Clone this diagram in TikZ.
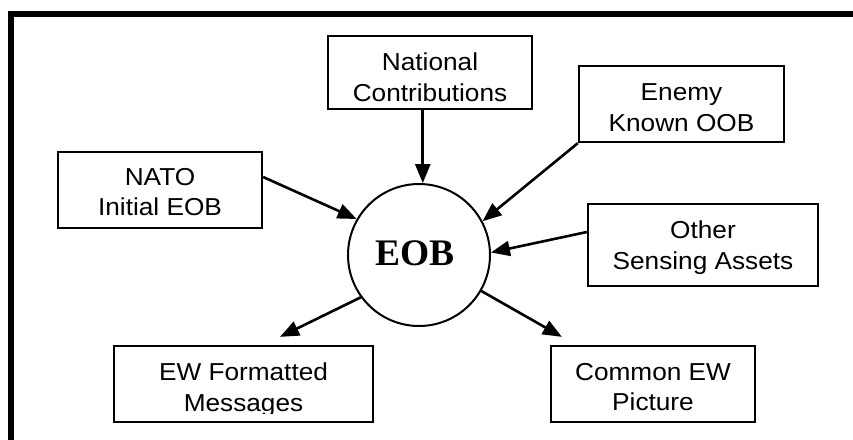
\documentclass[tikz,border=0pt]{standalone}
\usepackage{fontspec}
\usetikzlibrary{arrows.meta,calc}
\newfontfamily\boxfont[FakeStretch=1.07]{Liberation Sans}
\newfontfamily\eobfont{Liberation Serif}

\tikzset{
  box/.style={draw, line width=2.3pt, rectangle, inner sep=0pt},
  lbl/.style={anchor=north, inner sep=0pt, align=center,
              font=\boxfont\fontsize{24.5}{30.5}\selectfont},
  hub/.style={draw, circle, line width=2pt, inner sep=0pt, minimum size=142pt},
  hubtext/.style={anchor=base, inner sep=0pt,
              font=\eobfont\bfseries\fontsize{37.5}{40}\selectfont},
  flow/.style={line width=2.6pt, -{Triangle[length=19pt,width=15pt]}},
}

\begin{document}
\begin{tikzpicture}[x=1pt, y=-1pt]
  \useasboundingbox (0,0) rectangle (853,439);

  % heavy frame along the top and left edges
  \draw[line width=6pt] (11,445) |- (860,14);

  % central hub
  \node[hub] (eob) at (419,255) {};
  \node[hubtext] (eobT) at (415,265) {EOB};

  % source boxes
  \node[box, minimum width=204pt, minimum height=73pt] (nat) at (430,72.5) {};
  \node[lbl] (natT) at ([yshift=-18pt]nat.north) {National\\Contributions};

  \node[box, minimum width=205pt, minimum height=76pt] (enemy) at (681.5,104) {};
  \node[lbl] (enemyT) at ([yshift=-19pt]enemy.north) {Enemy\\Known OOB};

  \node[box, minimum width=204pt, minimum height=76pt] (nato) at (160,190) {};
  \node[lbl] (natoT) at ([yshift=-17pt]nato.north) {NATO\\Initial EOB};

  \node[box, minimum width=230pt, minimum height=82pt] (other) at (703,245) {};
  \node[lbl] (otherT) at ([yshift=-18pt]other.north) {Other\\Sensing Assets};

  % product boxes
  \node[box, minimum width=259pt, minimum height=76pt] (ewf) at (243.5,384) {};
  \node[box, minimum width=204pt, minimum height=76pt] (cmn) at (653,384) {};
  \begin{scope}
    \clip (0,0) rectangle (853,413);
    \node[lbl] (ewfT) at ([yshift=-18pt]ewf.north) {EW Formatted\\Messages};
    \node[lbl] (cmnT) at ([yshift=-18pt]cmn.north) {Common EW\\Picture};
  \end{scope}

  % free ends of the outgoing arrows, just above the product boxes
  \coordinate (ewfTip) at ([xshift=36.5pt, yshift=8pt]ewf.north);
  \coordinate (cmnTip) at ([xshift=12pt, yshift=8pt]cmn.north west);

  % inputs
  \draw[flow] (eob.87 |- nat.south) -- (eob.87);
  \draw[flow] ([yshift=13pt]nato.east) -- (eob.150);
  \draw[flow] (enemy.south west) -- (eob.28);
  \draw[flow] ([yshift=13pt]other.west) -- (eob.2);

  % outputs
  \draw[flow] (eob.216) -- (ewfTip);
  \draw[flow] (eob.-30) -- (cmnTip);
\end{tikzpicture}
\end{document}
